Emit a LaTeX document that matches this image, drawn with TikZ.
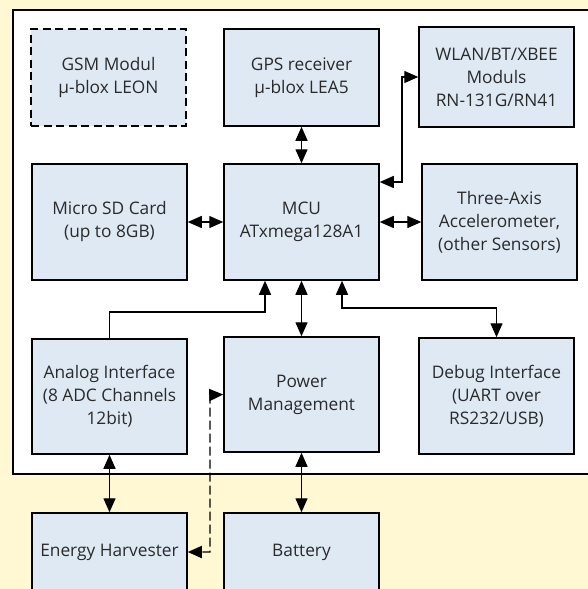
\documentclass[tikz,border=0pt]{standalone}
\usepackage{fontspec}
\setmainfont{Open Sans}
\usetikzlibrary{arrows.meta}
\definecolor{bgyellow}{HTML}{FFF8D2}
\definecolor{boxblue}{HTML}{DFE9F4}
\definecolor{txtgray}{HTML}{2A2A2A}
\tikzset{
  blk/.style={draw=black, line width=1.5pt, fill=boxblue, minimum width=155pt,
    align=center, inner sep=0pt, text=txtgray,
    font=\fontsize{17.3}{23}\selectfont},
  conn/.style={line width=1.4pt, -{Triangle[length=14pt,width=12pt]}},
  dbl/.style={line width=1.4pt, {Triangle[length=14pt,width=12pt]}-{Triangle[length=14pt,width=12pt]}},
}
\begin{document}
\begin{tikzpicture}[x=1pt,y=-1pt]
\fill[bgyellow] (0,0) rectangle (588,589);
\useasboundingbox (0,0) rectangle (588,589);
\draw[fill=white, line width=1.5pt] (600,10) -- (13,10) -- (13,474) -- (600,474);
\node[blk, minimum height=97pt, dash pattern=on 8pt off 4.5pt] (gsm) at (108.5,77.5) {GSM Modul\\μ-blox LEON};
\node[blk, minimum height=97pt] (gps) at (301.5,77.5) {GPS receiver\\μ-blox LEA5};
\node[blk, minimum height=100pt] (wlan) at (496.5,77) {WLAN/BT/XBEE\\Moduls\\RN-131G/RN41};
\node[blk, minimum height=116pt] (sd) at (109.5,222) {Micro SD Card\\(up to 8GB)};
\node[blk, minimum height=116pt] (mcu) at (301.5,222) {MCU\\ATxmega128A1};
\node[blk, minimum height=116pt] (acc) at (499.5,222) {Three-Axis\\Accelerometer,\\(other Sensors)};
\node[blk, minimum height=115pt] (analog) at (109.5,396.5) {Analog Interface\\(8 ADC Channels\\12bit)};
\node[blk, minimum height=115pt] (power) at (301.5,394.5) {Power\\Management};
\node[blk, minimum height=116pt] (debug) at (496.5,396) {Debug Interface\\(UART over\\RS232/USB)};
\node[blk, minimum height=78pt] (energy) at (109.5,552) {Energy Harvester};
\node[blk, minimum height=78pt] (battery) at (301.5,552) {Battery};
\coordinate (k1) at (265,312);
\coordinate (k2) at (342,308);
\coordinate (k3) at (402,182);
\coordinate (k4) at (210,395);
\draw[dbl] (gps) -- (mcu);
\draw[dbl] (k3 -| mcu.east) -- (k3) |- (wlan.west);
\draw[dbl] (sd) -- (mcu);
\draw[dbl] (mcu) -- (acc);
\draw[conn] (analog.north) |- (k1) -- (k1 |- mcu.south);
\draw[dbl] (mcu) -- (power);
\draw[dbl] (k2 |- mcu.south) -- (k2) -| (debug.north);
\draw[dbl] (analog) -- (energy);
\draw[dbl] (power) -- (battery);
\draw[dbl, dash pattern=on 9pt off 4pt] (power.west) -- (k4) |- (energy.east);
\end{tikzpicture}
\end{document}
